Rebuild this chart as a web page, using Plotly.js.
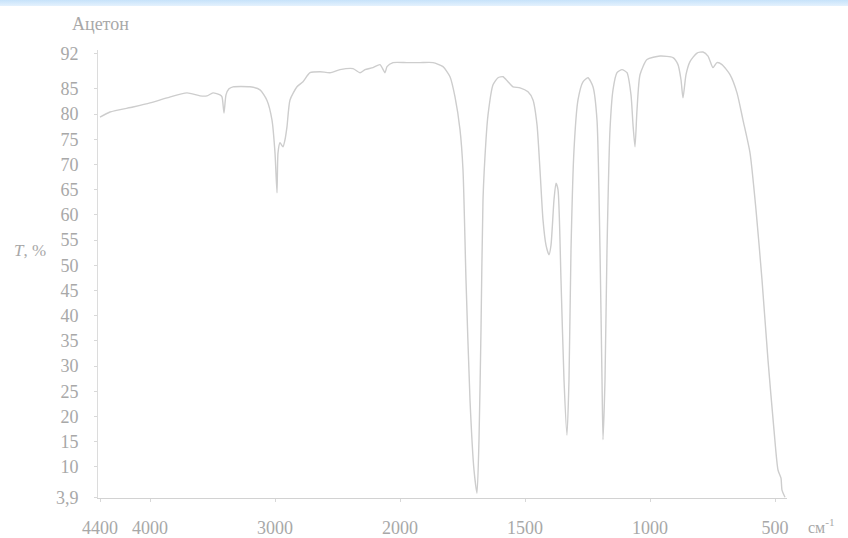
<!DOCTYPE html>
<html>
<head>
<meta charset="utf-8">
<script src="https://cdn.plot.ly/plotly-3.0.1.min.js"></script>
<style>
  html, body { margin: 0; padding: 0; background: #ffffff; }
  #band { position: absolute; left: 0; top: 0; width: 848px; height: 6px;
          background: linear-gradient(to bottom, #c6e2fa, #e4f1fd); z-index: 2; }
  #chart { width: 848px; height: 538px; }
</style>
</head>
<body>
<div id="band"></div>
<div id="chart"></div>
<script>
// IR spectrum of acetone: wavenumber (cm^-1) and transmittance (%)
const wavenumber = [
  4400, 4320, 4136, 4000, 3864, 3704, 3600, 3544, 3496, 3440,
  3424, 3408, 3392, 3368, 3336, 3200, 3120, 3064, 3024, 3000,
  2984, 2976, 2960, 2936, 2920, 2904, 2880, 2824, 2776, 2720,
  2640, 2560, 2480, 2376, 2320, 2280, 2216, 2160, 2120, 2104,
  2056, 1972, 1920, 1868, 1828, 1800, 1780, 1760, 1748, 1736,
  1720, 1704, 1692, 1684, 1676, 1668, 1656, 1648, 1628, 1608,
  1588, 1568, 1548, 1520, 1488, 1468, 1452, 1440, 1428, 1416,
  1404, 1396, 1384, 1376, 1368, 1356, 1344, 1332, 1324, 1316,
  1304, 1288, 1268, 1248, 1228, 1212, 1200, 1192, 1188, 1180,
  1172, 1160, 1148, 1132, 1112, 1092, 1076, 1068, 1060, 1052,
  1040, 1012, 960, 908, 888, 876, 868, 856, 840, 812,
  788, 768, 748, 732, 712, 680, 652, 628, 600, 576,
  552, 528, 504, 488, 476, 472, 460
];
const transmittance = [
  79.4, 80.4, 81.4, 82.2, 83.2, 84.2, 83.6, 83.6, 84.2, 83.8,
  83.4, 80.2, 83.8, 85.0, 85.4, 85.4, 84.8, 82.7, 78.8, 72.3,
  64.4, 72.3, 74.3, 73.5, 74.9, 77.5, 82.8, 85.4, 86.4, 88.2,
  88.4, 88.2, 88.8, 89.0, 88.2, 88.8, 89.2, 89.8, 88.2, 89.4,
  90.2, 90.2, 90.2, 90.2, 89.4, 87.4, 83.4, 76.9, 68.9, 47.1,
  23.3, 9.4, 4.8, 15.4, 37.2, 63.0, 74.9, 79.8, 85.8, 87.2,
  87.4, 86.4, 85.4, 85.2, 84.4, 82.8, 77.9, 68.9, 59.0, 54.0,
  52.1, 54.0, 63.0, 66.3, 65.0, 47.1, 27.3, 16.3, 27.3, 53.1,
  72.9, 82.8, 86.4, 87.2, 85.4, 78.8, 53.1, 27.3, 15.4, 27.3,
  53.1, 76.9, 84.8, 88.2, 88.8, 88.2, 83.8, 77.9, 73.5, 80.8,
  87.8, 90.8, 91.5, 91.2, 89.8, 86.8, 83.2, 87.8, 90.4, 92.1,
  92.3, 91.5, 89.2, 90.2, 89.8, 87.8, 84.2, 78.8, 72.3, 61.0,
  47.1, 31.2, 17.3, 9.4, 7.8, 5.4, 4.0
];

const xTicks = [4400, 4000, 3000, 2000, 1500, 1000, 500];
const yTicks = [3.9, 10, 15, 20, 25, 30, 35, 40, 45, 50, 55, 60, 65, 70, 75, 80, 85, 92];
const yTickLabels = ['3,9', '10', '15', '20', '25', '30', '35', '40', '45', '50',
                     '55', '60', '65', '70', '75', '80', '85', '92'];

// The wavenumber scale is halved above 2000 cm^-1 (usual IR chart layout)
function scaleWavenumber(v) {
  return v > 2000 ? 2000 + (v - 2000) / 2 : v;
}

const serif = 'Liberation Serif, Times New Roman, serif';
const labelColor = '#a8a8a8';

const trace = {
  x: wavenumber.map(scaleWavenumber),
  y: transmittance,
  type: 'scatter',
  mode: 'lines',
  line: { color: '#cdcdcd', width: 1.4, shape: 'spline', smoothing: 0.6 },
  hoverinfo: 'skip'
};

const layout = {
  width: 848,
  height: 538,
  margin: { l: 98, r: 61, t: 50, b: 40 },
  paper_bgcolor: '#ffffff',
  plot_bgcolor: '#ffffff',
  showlegend: false,
  title: {
    text: 'Ацетон',
    x: 72 / 848, xanchor: 'left',
    y: 1 - 24 / 538, yanchor: 'middle',
    font: { family: serif, size: 18, color: labelColor }
  },
  xaxis: {
    range: [scaleWavenumber(4416), scaleWavenumber(452)],
    tickvals: xTicks.map(scaleWavenumber),
    ticktext: xTicks.map(String),
    showgrid: false, zeroline: false,
    showline: true, linecolor: '#d2d2d2', linewidth: 1.2,
    ticks: 'outside', ticklen: 3, tickcolor: '#d8d8d8',
    ticklabelstandoff: 10,
    tickfont: { family: serif, size: 18, color: labelColor }
  },
  yaxis: {
    range: [3.85, 92.7],
    tickvals: yTicks,
    ticktext: yTickLabels,
    showgrid: false, zeroline: false,
    showline: true, linecolor: '#dcdcdc', linewidth: 1,
    ticks: 'outside', ticklen: 3, tickcolor: '#d8d8d8',
    ticklabelstandoff: 12,
    tickfont: { family: serif, size: 18, color: labelColor }
  },
  annotations: [
    {
      text: '<i>T</i>, %',
      xref: 'paper', yref: 'y',
      x: (30 - 98) / 689, y: 53,
      xanchor: 'center', yanchor: 'middle',
      showarrow: false,
      font: { family: serif, size: 17, color: labelColor }
    },
    {
      text: 'см<sup>-1</sup>',
      xref: 'paper', yref: 'paper',
      x: (822 - 98) / 689, y: (498 - 526) / 448,
      xanchor: 'center', yanchor: 'middle',
      showarrow: false,
      font: { family: serif, size: 16, color: labelColor }
    }
  ]
};

Plotly.newPlot('chart', [trace], layout, { staticPlot: true, displayModeBar: false });
</script>
</body>
</html>
